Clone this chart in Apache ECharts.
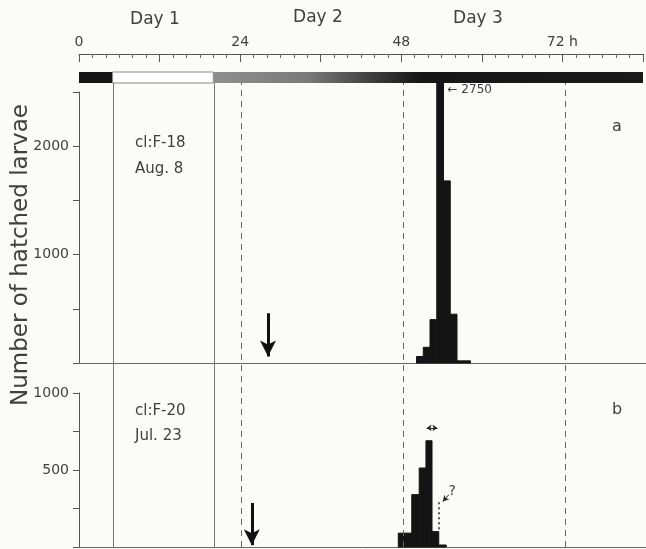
<!DOCTYPE html>
<html>
<head>
<meta charset="utf-8">
<script src="https://cdn.jsdelivr.net/npm/echarts@6/dist/echarts.min.js"></script>
<style>
html,body{margin:0;padding:0;background:#fbfbf8;}
#main{width:646px;height:549px;}
</style>
</head>
<body>
<div id="main"></div>
<script>
// time axis (hours after start)
var hourMin = 0, hourMax = 84;
var rulerLabels = [0, 24, 48, 72];

// light regime bar: start h, end h, kind
var lightStart = [0, 5, 20];
var lightEnd = [5, 20, 84];
var lightKind = ['dark', 'light', 'dim'];

// a) cl:F-18, Aug. 8 - hatched larvae per bin
var startA = [50, 51, 52, 53, 54, 55, 56];
var endA = [51, 52, 53, 54, 55, 56, 58];
var countA = [60, 145, 400, 2750, 1680, 450, 20];
var capA = 2590; // the 2750 bar is cut off here

// b) cl:F-20, Jul. 23
var startB = [47.3, 48.3, 49.3, 50.4, 51.4, 52.3, 53.3];
var endB = [48.3, 49.3, 50.4, 51.4, 52.3, 53.3, 54.4];
var countB = [90, 90, 340, 513, 690, 100, 13];

var solidLines = [5, 20];
var dashLines = [24, 48, 72];

var font = 'DejaVu Sans';
var txt = '#404040';

function rows(s, e, v) {
  var out = [];
  for (var i = 0; i < s.length; i++) out.push([s[i], e[i], v[i]]);
  return out;
}

function histItem(cap) {
  return function (params, api) {
    var v = api.value(2);
    var top = (cap && v > cap) ? cap : v;
    var p0 = api.coord([api.value(0), top]);
    var p1 = api.coord([api.value(1), 0]);
    var kids = [{
      type: 'rect',
      shape: {x: p0[0], y: p0[1], width: p1[0] - p0[0], height: p1[1] - p0[1]},
      style: {fill: '#141414', stroke: '#141414', lineWidth: 1}
    }];
    if (cap && v > cap) {
      kids.push({
        type: 'text', x: p1[0] + 4, y: p0[1] + 8,
        style: {text: '\u2190 ' + v, fill: txt, font: '12px ' + font, verticalAlign: 'middle'}
      });
    }
    return {type: 'group', children: kids};
  };
}

var chart = echarts.init(document.getElementById('main'));

var xBase = {type: 'value', min: hourMin, max: hourMax, splitLine: {show: false}};

chart.setOption({
  backgroundColor: '#fbfbf8',
  animation: false,
  grid: [
    {left: 79, right: 0, top: 92, height: 271},
    {left: 79, right: 0, top: 393, height: 154},
    {left: 79, right: 0, top: 72, height: 11},
    {left: 79, right: 0, top: 83, height: 464}
  ],
  xAxis: [
    Object.assign({gridIndex: 0, axisLine: {lineStyle: {color: '#666'}}, axisTick: {show: false}, axisLabel: {show: false}}, xBase),
    Object.assign({gridIndex: 1, axisLine: {lineStyle: {color: '#666'}}, axisTick: {show: false}, axisLabel: {show: false}}, xBase),
    Object.assign({gridIndex: 2, position: 'top', offset: 18, interval: 12,
      axisLine: {onZero: false, lineStyle: {color: '#555'}},
      axisTick: {inside: true, length: 8, lineStyle: {color: '#555'}},
      minorTick: {show: true, splitNumber: 6, length: 4, lineStyle: {color: '#666'}},
      axisLabel: {
        margin: 5, color: txt, fontFamily: font, fontSize: 14,
        formatter: function (v) {
          if (rulerLabels.indexOf(v) < 0) return '';
          return v === 72 ? '72 h' : String(v);
        }
      }}, xBase),
    Object.assign({gridIndex: 3, show: false}, xBase)
  ],
  yAxis: [
    {type: 'value', gridIndex: 0, min: 0, max: 2500, interval: 500,
      splitLine: {show: false},
      axisLine: {show: true, lineStyle: {color: '#555'}},
      axisTick: {length: 6, lineStyle: {color: '#555'}},
      axisLabel: {margin: 10, color: txt, fontFamily: font, fontSize: 14,
        formatter: function (v) { return (v === 1000 || v === 2000) ? v : ''; }}},
    {type: 'value', gridIndex: 1, min: 0, max: 1000, interval: 250,
      splitLine: {show: false},
      axisLine: {show: true, lineStyle: {color: '#555'}},
      axisTick: {length: 6, lineStyle: {color: '#555'}},
      axisLabel: {margin: 10, color: txt, fontFamily: font, fontSize: 14,
        formatter: function (v) { return (v === 500 || v === 1000) ? v : ''; }}},
    {type: 'value', gridIndex: 2, min: 0, max: 1, show: false},
    {type: 'value', gridIndex: 3, min: 0, max: 1, show: false}
  ],
  series: [
    {
      type: 'custom', xAxisIndex: 0, yAxisIndex: 0,
      renderItem: histItem(capA), data: rows(startA, endA, countA),
      markLine: {
        silent: true, symbol: ['none', 'arrow'], symbolSize: [12, 16],
        label: {show: false},
        lineStyle: {color: '#111', width: 3, type: 'solid'},
        data: [[{coord: [28, 459]}, {coord: [28, 60]}]]
      }
    },
    {
      type: 'custom', xAxisIndex: 1, yAxisIndex: 1,
      renderItem: histItem(0), data: rows(startB, endB, countB),
      markLine: {
        silent: true, symbol: ['none', 'arrow'], symbolSize: [12, 16],
        label: {show: false},
        lineStyle: {color: '#111', width: 3, type: 'solid'},
        data: [[{coord: [25.6, 286]}, {coord: [25.6, 12]}]]
      }
    },
    {
      // double arrow over peak
      type: 'line', xAxisIndex: 1, yAxisIndex: 1, data: [],
      markLine: {
        silent: true, symbol: ['arrow', 'arrow'], symbolSize: [5, 5],
        label: {show: false},
        lineStyle: {color: '#222', width: 1, type: 'solid'},
        data: [[{coord: [51.5, 773]}, {coord: [53.1, 773]}]]
      }
    },
    {
      // dotted uncertain edge
      type: 'line', xAxisIndex: 1, yAxisIndex: 1, data: [],
      markLine: {
        silent: true, symbol: ['none', 'none'],
        label: {show: false},
        lineStyle: {color: '#222', width: 1.5, type: [2, 3]},
        data: [[{coord: [53.3, 290]}, {coord: [53.3, 100]}]]
      }
    },
    {
      type: 'line', xAxisIndex: 1, yAxisIndex: 1, data: [],
      markLine: {
        silent: true, symbol: ['none', 'arrow'], symbolSize: [5, 6],
        label: {show: false},
        lineStyle: {color: '#222', width: 1, type: 'solid'},
        data: [[{coord: [54.8, 340]}, {coord: [53.9, 295]}]]
      },
      markPoint: {
        silent: true, symbol: 'circle', symbolSize: 1,
        itemStyle: {color: 'rgba(0,0,0,0)'},
        label: {show: true, position: 'inside', formatter: '?', color: txt, fontFamily: font, fontSize: 14},
        data: [{coord: [55.3, 362]}]
      }
    },
    {
      // light regime bar
      type: 'custom', xAxisIndex: 2, yAxisIndex: 2,
      data: rows(lightStart, lightEnd, lightKind.map(function (k, i) { return i; })),
      renderItem: function (params, api) {
        var p0 = api.coord([api.value(0), 1]);
        var p1 = api.coord([api.value(1), 0]);
        var kind = lightKind[params.dataIndex];
        var fill = '#151515', stroke = null;
        if (kind === 'light') { fill = '#ffffff'; stroke = '#8a8a8a'; }
        if (kind === 'dim') {
          fill = new echarts.graphic.LinearGradient(0, 0, 1, 0, [
            {offset: 0, color: '#8e8e8e'},
            {offset: 0.22, color: '#7a7a7a'},
            {offset: 0.38, color: '#3a3a3a'},
            {offset: 0.48, color: '#161616'},
            {offset: 1, color: '#1a1a1a'}
          ]);
        }
        return {
          type: 'rect',
          shape: {x: p0[0], y: p0[1], width: p1[0] - p0[0], height: p1[1] - p0[1]},
          style: {fill: fill, stroke: stroke, lineWidth: 1}
        };
      }
    },
    {
      type: 'line', xAxisIndex: 3, yAxisIndex: 3, data: [],
      markLine: {
        silent: true, symbol: 'none', label: {show: false},
        lineStyle: {color: '#777', width: 1, type: 'solid'},
        data: solidLines.map(function (h) { return {xAxis: h}; })
      }
    },
    {
      type: 'line', xAxisIndex: 3, yAxisIndex: 3, data: [],
      markLine: {
        silent: true, symbol: 'none', label: {show: false},
        lineStyle: {color: '#666', width: 1, type: [6, 5]},
        data: dashLines.map(function (h) { return {xAxis: h}; })
      }
    }
  ],
  graphic: [
    {type: 'text', x: 155, y: 20, style: {text: 'Day 1', fill: txt, font: '17px ' + font, align: 'center', verticalAlign: 'middle'}},
    {type: 'text', x: 318, y: 18, style: {text: 'Day 2', fill: txt, font: '17px ' + font, align: 'center', verticalAlign: 'middle'}},
    {type: 'text', x: 478, y: 19, style: {text: 'Day 3', fill: txt, font: '17px ' + font, align: 'center', verticalAlign: 'middle'}},
    {type: 'text', x: 21, y: 255, rotation: Math.PI / 2,
      style: {text: 'Number of hatched larvae', fill: txt, font: '23px ' + font, align: 'center', verticalAlign: 'middle'}},
    {type: 'text', x: 135, y: 143, style: {text: 'cl:F-18', fill: txt, font: '15px ' + font, verticalAlign: 'middle'}},
    {type: 'text', x: 135, y: 169, style: {text: 'Aug. 8', fill: txt, font: '15px ' + font, verticalAlign: 'middle'}},
    {type: 'text', x: 617, y: 127, style: {text: 'a', fill: txt, font: '16px ' + font, align: 'center', verticalAlign: 'middle'}},
    {type: 'text', x: 135, y: 411, style: {text: 'cl:F-20', fill: txt, font: '15px ' + font, verticalAlign: 'middle'}},
    {type: 'text', x: 135, y: 436, style: {text: 'Jul. 23', fill: txt, font: '15px ' + font, verticalAlign: 'middle'}},
    {type: 'text', x: 617, y: 410, style: {text: 'b', fill: txt, font: '16px ' + font, align: 'center', verticalAlign: 'middle'}}
  ]
});
</script>
</body>
</html>
